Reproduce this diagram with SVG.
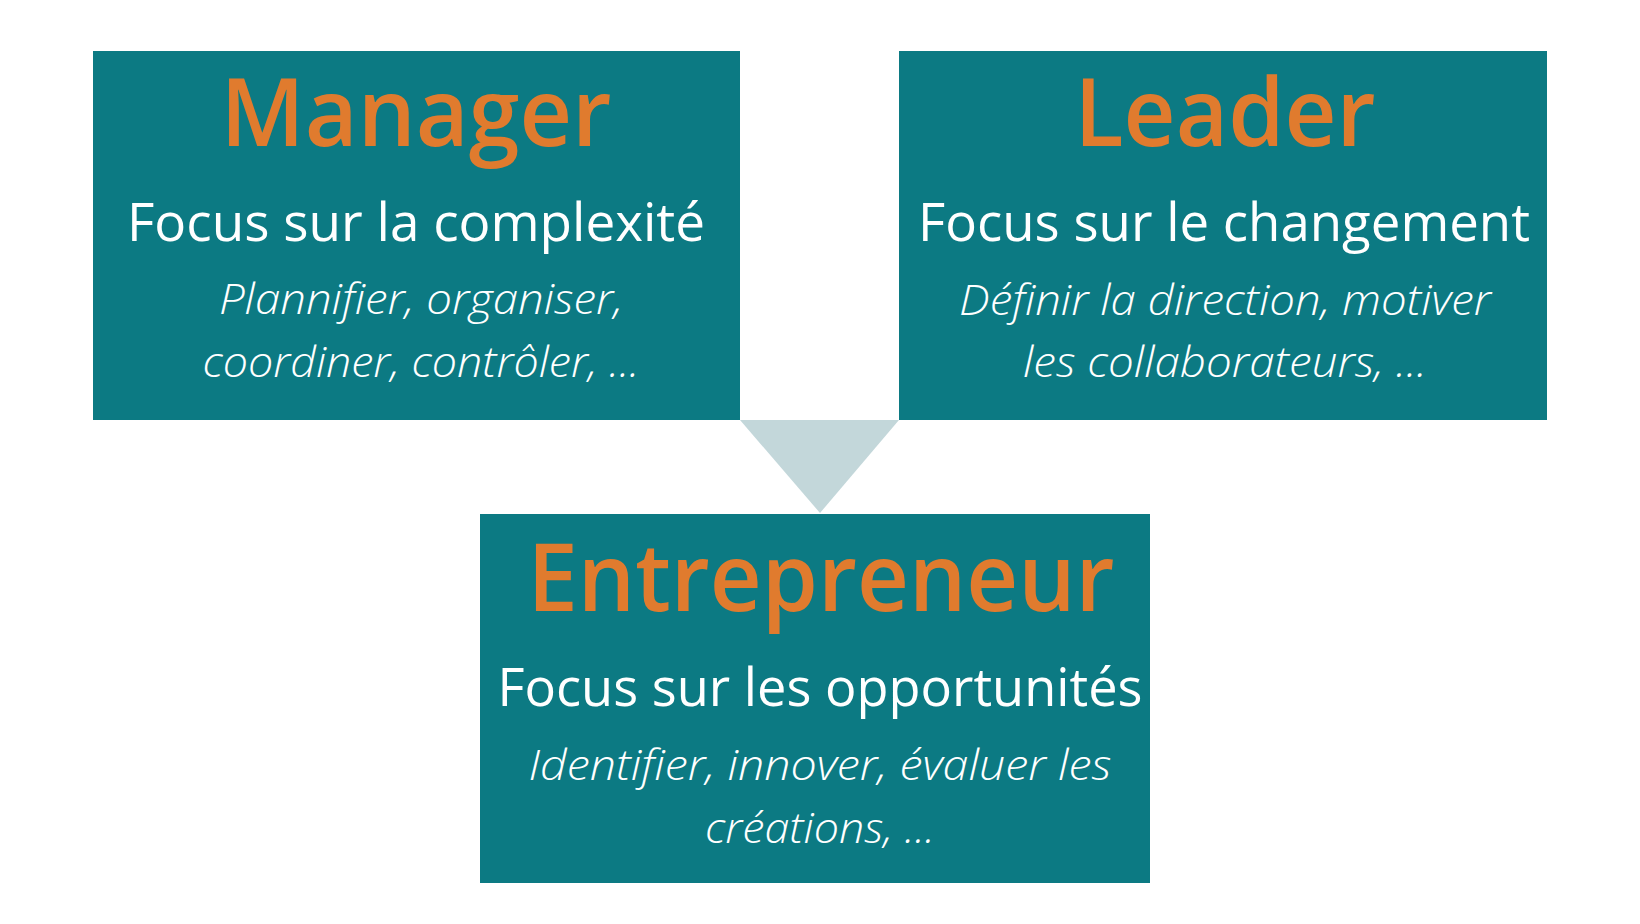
<svg xmlns="http://www.w3.org/2000/svg" width="1640" height="924" viewBox="0 0 1640 924">
<style>
.box{fill:#0C7A83}
.title{font-family:"Open Sans","Noto Sans","Liberation Sans",sans-serif;font-weight:600;font-size:95px;fill:#E07B2E;text-anchor:middle}
.sub{font-family:"Open Sans","Noto Sans","Liberation Sans",sans-serif;font-weight:400;font-size:53px;fill:#FFFFFF;text-anchor:middle}
.it{font-family:"Open Sans","Noto Sans","Liberation Sans",sans-serif;font-weight:300;font-style:italic;font-size:42px;fill:#FFFFFF;text-anchor:middle}
.arrow{fill:#C3D7DA}
</style>
<rect width="1640" height="924" fill="#FFFFFF"/>
<g id="connectors">
<polygon class="arrow" points="740,420 899,420 820,513"/>
</g>
<g id="manager">
<rect class="box" x="93" y="51" width="647" height="369"/>
<text class="title" x="416" y="146" textLength="391" lengthAdjust="spacingAndGlyphs">Manager</text>
<text class="sub" x="416" y="241" textLength="578" lengthAdjust="spacingAndGlyphs">Focus sur la complexité</text>
<text class="it" x="421" y="314" textLength="404" lengthAdjust="spacingAndGlyphs">Plannifier, organiser,</text>
<text class="it" x="421" y="377" textLength="437" lengthAdjust="spacingAndGlyphs">coordiner, contrôler, ...</text>
</g>
<g id="leader">
<rect class="box" x="899" y="51" width="648" height="369"/>
<text class="title" x="1225" y="146" textLength="301" lengthAdjust="spacingAndGlyphs">Leader</text>
<text class="sub" x="1224" y="241" textLength="612" lengthAdjust="spacingAndGlyphs">Focus sur le changement</text>
<text class="it" x="1225" y="315" textLength="532" lengthAdjust="spacingAndGlyphs">Définir la direction, motiver</text>
<text class="it" x="1225" y="377" textLength="404" lengthAdjust="spacingAndGlyphs">les collaborateurs, ...</text>
</g>
<g id="entrepreneur">
<rect class="box" x="480" y="514" width="670" height="369"/>
<text class="title" x="821" y="611" textLength="587" lengthAdjust="spacingAndGlyphs">Entrepreneur</text>
<text class="sub" x="820" y="706" textLength="645" lengthAdjust="spacingAndGlyphs">Focus sur les opportunités</text>
<text class="it" x="820" y="780" textLength="583" lengthAdjust="spacingAndGlyphs">Identifier, innover, évaluer les</text>
<text class="it" x="820" y="843" textLength="230" lengthAdjust="spacingAndGlyphs">créations, ...</text>
</g>
</svg>
